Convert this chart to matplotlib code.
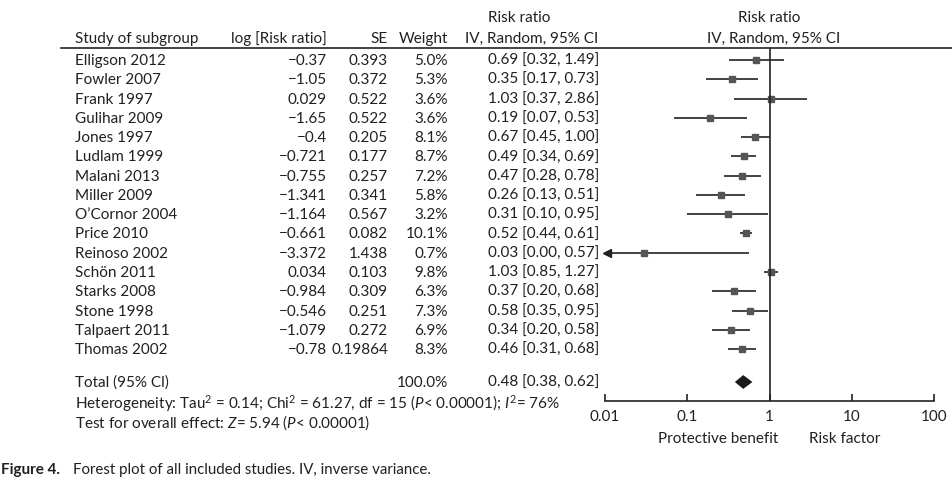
import numpy as np
import matplotlib
matplotlib.use("Agg")
import matplotlib.pyplot as plt
from matplotlib.transforms import blended_transform_factory
from matplotlib.lines import Line2D

plt.rcParams['font.family'] = ['Lato', 'DejaVu Sans']
plt.rcParams['mathtext.fontset'] = 'custom'
plt.rcParams['mathtext.rm'] = 'Lato'
plt.rcParams['mathtext.it'] = 'Lato:italic'

# data
studies = ["Elligson 2012", "Fowler 2007", "Frank 1997", "Gulihar 2009", "Jones 1997",
           "Ludlam 1999", "Malani 2013", "Miller 2009", "O\u2019Cornor 2004", "Price 2010",
           "Reinoso 2002", "Sch\u00f6n 2011", "Starks 2008", "Stone 1998", "Talpaert 2011",
           "Thomas 2002"]
log_rr = ["\u22120.37", "\u22121.05", "0.029", "\u22121.65", "\u22120.4", "\u22120.721", "\u22120.755",
          "\u22121.341", "\u22121.164", "\u22120.661", "\u22123.372", "0.034", "\u22120.984",
          "\u22120.546", "\u22121.079", "\u22120.78"]
se = ["0.393", "0.372", "0.522", "0.522", "0.205", "0.177", "0.257", "0.341", "0.567",
      "0.082", "1.438", "0.103", "0.309", "0.251", "0.272", "0.19864"]
weight = [5.0, 5.3, 3.6, 3.6, 8.1, 8.7, 7.2, 5.8, 3.2, 10.1, 0.7, 9.8, 6.3, 7.3, 6.9, 8.3]
rr = [0.69, 0.35, 1.03, 0.19, 0.67, 0.49, 0.47, 0.26, 0.31, 0.52, 0.03, 1.03, 0.37, 0.58, 0.34, 0.46]
lo = [0.32, 0.17, 0.37, 0.07, 0.45, 0.34, 0.28, 0.13, 0.10, 0.44, 0.00, 0.85, 0.20, 0.35, 0.20, 0.31]
hi = [1.49, 0.73, 2.86, 0.53, 1.00, 0.69, 0.78, 0.51, 0.95, 0.61, 0.57, 1.27, 0.68, 0.95, 0.58, 0.68]
total_weight = 100.0
total_rr, total_lo, total_hi = 0.48, 0.38, 0.62
xticks = [0.01, 0.1, 1, 10, 100]
xticklabels = ["0.01", "0.1", "1", "10", "100"]

W, H = 952, 481
fig = plt.figure(figsize=(W / 100, H / 100), dpi=100)
txt = '#231f20'
fs = 11

# forest axes (pixel placement)
x0, x1 = 604.7, 934.3
y_top, y_bot = 49, 402
ax = fig.add_axes([x0 / W, 1 - y_bot / H, (x1 - x0) / W, (y_bot - y_top) / H])
row0, step = 61, 19.27
ax.set_xscale('log')
ax.set_xlim(0.01, 100)
ax.set_ylim((y_bot - row0) / step, (y_top - row0) / step)
total_y = (383 - row0) / step

n = len(studies)
for i in range(n):
    if lo[i] <= 0.01:
        ax.plot([0.0115, hi[i]], [i, i], color='#222222', lw=1.2, solid_capstyle='butt')
        ax.plot([0.0108], [i], marker='<', color='#222222', ms=6, clip_on=False)
    else:
        ax.plot([lo[i], hi[i]], [i, i], color='#222222', lw=1.2, solid_capstyle='butt')
    ax.plot([rr[i]], [i], marker='s', color='#555555', ms=3.8, mec='#555555')

# total diamond
dh = 0.36
ax.fill([total_lo, total_rr, total_hi, total_rr],
        [total_y, total_y - dh, total_y, total_y + dh], color='#1a1a1a', lw=0)

ax.axvline(1, color='#222222', lw=1.2)
for s in ['left', 'right', 'top']:
    ax.spines[s].set_visible(False)
ax.spines['bottom'].set_linewidth(1.2)
ax.spines['bottom'].set_color('#222222')
ax.set_yticks([])
ax.set_xticks(xticks)
ax.set_xticklabels(xticklabels)
ax.minorticks_off()
ax.tick_params(axis='x', direction='in', length=5, width=1.2, color='#222222',
               labelsize=fs, labelcolor=txt, pad=6)

# table text
tr = blended_transform_factory(fig.transFigure, ax.transData)


def fx(px):
    return px / W


for i in range(n):
    ax.text(fx(75), i, studies[i], transform=tr, ha='left', va='center', fontsize=fs, color=txt)
    ax.text(fx(327), i, log_rr[i], transform=tr, ha='right', va='center', fontsize=fs, color=txt)
    ax.text(fx(388), i, se[i], transform=tr, ha='right', va='center', fontsize=fs, color=txt)
    ax.text(fx(448), i, "%.1f%%" % weight[i], transform=tr, ha='right', va='center', fontsize=fs, color=txt)
    ax.text(fx(488), i, "%.2f [%.2f, %.2f]" % (rr[i], lo[i], hi[i]), transform=tr,
            ha='left', va='center', fontsize=fs, color=txt)

ax.text(fx(75), total_y, "Total (95% Cl)", transform=tr, ha='left', va='center', fontsize=fs, color=txt)
ax.text(fx(448), total_y, "%.1f%%" % total_weight, transform=tr, ha='right', va='center', fontsize=fs, color=txt)
ax.text(fx(488), total_y, "%.2f [%.2f, %.2f]" % (total_rr, total_lo, total_hi), transform=tr,
        ha='left', va='center', fontsize=fs, color=txt)


def fy(py):
    return 1 - py / H


fig.text(fx(75), fy(404),
         r"Heterogeneity: Tau$^{\mathrm{2}}$ = 0.14; Chi$^{\mathrm{2}}$ = 61.27, df = 15 ($P$< 0.00001); $I^{\mathrm{2}}$= 76%",
         ha='left', va='center', fontsize=fs, color=txt)
fig.text(fx(75), fy(423), "Test for overall effect: $Z$= 5.94 ($P$< 0.00001)",
         ha='left', va='center', fontsize=fs, color=txt)

# headers
fig.text(fx(75), fy(39), "Study of subgroup", ha='left', va='center', fontsize=fs, color=txt)
fig.text(fx(327), fy(39), "log [Risk ratio]", ha='right', va='center', fontsize=fs, color=txt)
fig.text(fx(388), fy(39), "SE", ha='right', va='center', fontsize=fs, color=txt)
fig.text(fx(448), fy(39), "Weight", ha='right', va='center', fontsize=fs, color=txt)
fig.text(fx(519), fy(18), "Risk ratio", ha='center', va='center', fontsize=fs, color=txt)
fig.text(fx(532), fy(39), "IV, Random, 95% CI", ha='center', va='center', fontsize=fs, color=txt)
fig.text(fx(769), fy(18), "Risk ratio", ha='center', va='center', fontsize=fs, color=txt)
fig.text(fx(774), fy(39), "IV, Random, 95% CI", ha='center', va='center', fontsize=fs, color=txt)
fig.add_artist(Line2D([fx(61), 1], [fy(49), fy(49)], color='#222222', lw=1.2))

fig.text(fx(778), fy(439), "Protective benefit", ha='right', va='center', fontsize=fs, color=txt)
fig.text(fx(809), fy(439), "Risk factor", ha='left', va='center', fontsize=fs, color=txt)

# caption
fig.text(fx(1), fy(470), "Figure 4.", ha='left', va='center', fontsize=11, color=txt, fontweight='bold')
fig.text(fx(73), fy(470), "Forest plot of all included studies. IV, inverse variance.",
         ha='left', va='center', fontsize=10.8, color=txt)

fig.savefig("out.png", dpi=100)
